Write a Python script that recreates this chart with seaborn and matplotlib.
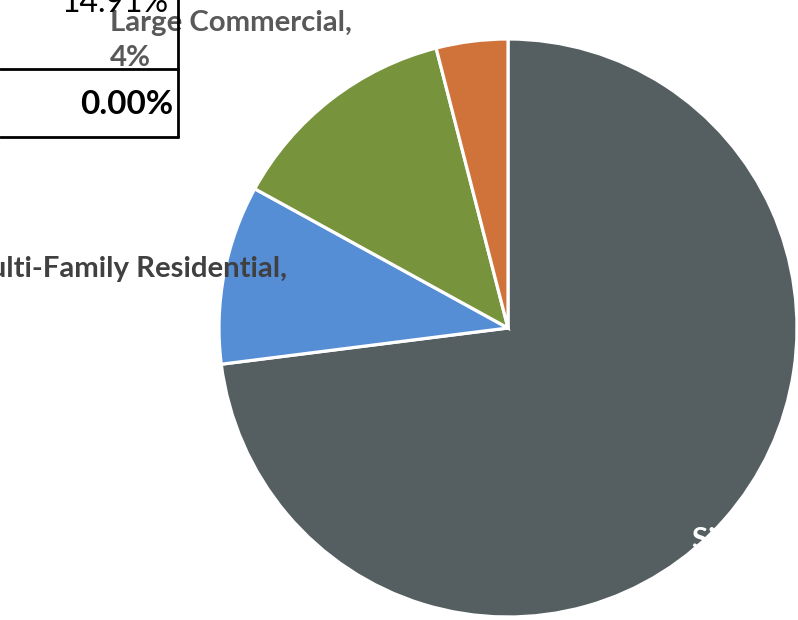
import matplotlib
matplotlib.use("Agg")
import matplotlib.pyplot as plt
import seaborn as sns

# Customer class shares (percent of total)
categories = ["Single-Family Residential", "Multi-Family Residential",
              "Small Commercial", "Large Commercial"]
shares = [73, 10, 13, 4]
colors = ["#555F61", "#558ED5", "#77933C", "#D0733A"]

# Cells of the summary table beside the chart
table_values = ["14.91%", "0.00%"]

sns.set_theme(style="white")
plt.rcParams["font.family"] = ["Lato", "DejaVu Sans"]

W, H = 798, 620
fig = plt.figure(figsize=(W / 100, H / 100), dpi=100)
ax = fig.add_axes([0, 0, 1, 1])

cx, cy, r = 508, H - 328, 289
ax.pie(shares, colors=colors, startangle=90, counterclock=False,
       center=(cx, cy), radius=r,
       wedgeprops=dict(edgecolor="white", linewidth=2.3))
ax.set_xlim(0, W)
ax.set_ylim(0, H)
ax.set_aspect("equal")
ax.axis("off")

# Summary table fragment
lw = 2.0
ax.plot([0, 178], [H - 69, H - 69], color="black", lw=lw, zorder=5)
ax.plot([0, 178], [H - 137, H - 137], color="black", lw=lw, zorder=5)
ax.plot([178, 178], [H - 137, H + 2], color="black", lw=lw, zorder=5)
ax.text(168, H - 12, table_values[0], ha="right", va="baseline",
        fontsize=23, color="black", zorder=4)
ax.text(173, H - 114, table_values[1], ha="right", va="baseline",
        fontsize=24, fontweight="bold", color="black", zorder=4)

# Data labels
fs = 21.2
lab_col = "#595959"
ax.text(110, H - 31, f"{categories[3]},",
        ha="left", va="baseline", fontsize=fs, fontweight="bold",
        color=lab_col, zorder=3)
ax.text(110, H - 66, f"{shares[3]}%", ha="left", va="baseline",
        fontsize=fs, fontweight="bold", color=lab_col, zorder=3)
ax.text(287, H - 277, f"{categories[1]},", ha="right", va="baseline",
        fontsize=fs, fontweight="bold", color="#404040", zorder=3)
ax.text(692, H - 548, f"{categories[0]},", ha="left", va="baseline",
        fontsize=fs, fontweight="bold", color="white", zorder=3)

fig.savefig("out.png", dpi=100)
